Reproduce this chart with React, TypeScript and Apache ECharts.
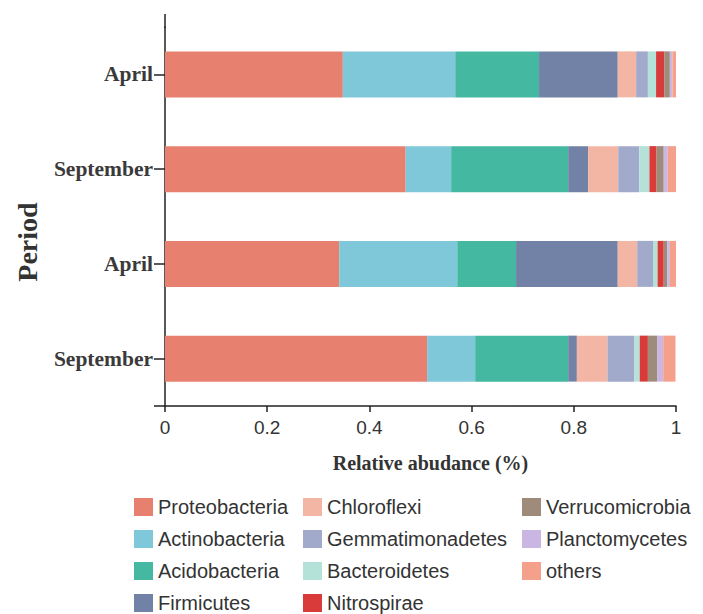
import React, { useEffect, useRef } from "react";
import * as echarts from "echarts";

// Categories bottom -> top
const periods = ["September", "April", "September", "April"];
const xTicks = [0, 0.2, 0.4, 0.6, 0.8, 1];

const phyla = [
  "Proteobacteria",
  "Actinobacteria",
  "Acidobacteria",
  "Firmicutes",
  "Chloroflexi",
  "Gemmatimonadetes",
  "Bacteroidetes",
  "Nitrospirae",
  "Verrucomicrobia",
  "Planctomycetes",
  "others",
];

const proteobacteria = [0.513, 0.341, 0.471, 0.348];
const actinobacteria = [0.094, 0.231, 0.089, 0.22];
const acidobacteria = [0.182, 0.115, 0.229, 0.164];
const firmicutes = [0.017, 0.199, 0.039, 0.154];
const chloroflexi = [0.06, 0.038, 0.059, 0.036];
const gemmatimonadetes = [0.052, 0.031, 0.041, 0.023];
const bacteroidetes = [0.011, 0.009, 0.02, 0.016];
const nitrospirae = [0.016, 0.012, 0.014, 0.016];
const verrucomicrobia = [0.018, 0.007, 0.014, 0.011];
const planctomycetes = [0.012, 0.005, 0.008, 0.005];
const others = [0.024, 0.012, 0.016, 0.007];

const seriesValues = [
  proteobacteria,
  actinobacteria,
  acidobacteria,
  firmicutes,
  chloroflexi,
  gemmatimonadetes,
  bacteroidetes,
  nitrospirae,
  verrucomicrobia,
  planctomycetes,
  others,
];

const colors = [
  "#E8806F",
  "#7EC8DA",
  "#45B8A2",
  "#7282A6",
  "#F4B6A4",
  "#A2AACB",
  "#B4E2D8",
  "#D93A3A",
  "#9E8B79",
  "#C9B6E2",
  "#F5A08A",
];

const legendCols = [
  ["Proteobacteria", "Actinobacteria", "Acidobacteria", "Firmicutes"],
  ["Chloroflexi", "Gemmatimonadetes", "Bacteroidetes", "Nitrospirae"],
  ["Verrucomicrobia", "Planctomycetes", "others"],
];

export default function App() {
  const ref = useRef<HTMLDivElement>(null);
  useEffect(() => {
    if (!ref.current) return;
    const chart = echarts.init(ref.current, null, { renderer: "svg" });
    const legendLefts = [134, 303, 522];
    const option: any = {
      animation: false,
      color: colors,
      grid: { left: 165, right: 27, top: 27, bottom: 208, containLabel: false },
      legend: legendCols.map((col, i) => ({
        data: col,
        orient: "vertical",
        left: legendLefts[i],
        top: 497,
        icon: "rect",
        itemWidth: 19,
        itemHeight: 18,
        itemGap: 12,
        padding: 0,
        selectedMode: false,
        textStyle: {
          fontFamily: "Liberation Sans",
          fontSize: 20,
          lineHeight: 20,
          color: "#333",
        },
      })),
      xAxis: {
        type: "value",
        min: 0,
        max: 1,
        interval: 0.2,
        splitLine: { show: false },
        axisLine: { show: true, lineStyle: { color: "#222", width: 1.5 } },
        axisTick: { show: true, length: 6, lineStyle: { color: "#222", width: 1.5 } },
        axisLabel: {
          margin: 12,
          fontFamily: "Liberation Sans",
          fontSize: 19,
          color: "#333",
          formatter: (v: number) => (xTicks.indexOf(v) >= 0 ? String(v) : ""),
        },
        name: "Relative abudance (%)",
        nameLocation: "middle",
        nameGap: 47,
        nameTextStyle: {
          fontFamily: "Liberation Serif",
          fontWeight: "bold",
          fontSize: 20,
          color: "#333",
          padding: [0, 0, 0, 20],
        },
      },
      yAxis: {
        type: "category",
        data: periods,
        axisLine: { show: true, lineStyle: { color: "#222", width: 1.5 } },
        axisTick: { show: true, alignWithLabel: true, length: 11, lineStyle: { color: "#222", width: 1.5 } },
        axisLabel: {
          margin: 12,
          fontFamily: "Liberation Serif",
          fontWeight: "bold",
          fontSize: 21.5,
          color: "#3a3a3a",
        },
      },
      graphic: [
        {
          type: "line",
          shape: { x1: 165, y1: 14, x2: 165, y2: 28 },
          style: { stroke: "#222", lineWidth: 1.5 },
        },
        {
          type: "line",
          shape: { x1: 154, y1: 406, x2: 165, y2: 406 },
          style: { stroke: "#222", lineWidth: 1.5 },
        },
        {
          type: "text",
          x: 27,
          y: 242,
          rotation: Math.PI / 2,
          style: {
            text: "Period",
            fontFamily: "Liberation Serif",
            fontWeight: "bold",
            fontSize: 28,
            fill: "#333",
            textAlign: "center",
            textVerticalAlign: "middle",
          },
        },
      ],
      series: phyla.map((name, i) => ({
        name,
        type: "bar",
        stack: "total",
        barWidth: 46,
        data: seriesValues[i],
        itemStyle: { color: colors[i] },
      })),
    };
    chart.setOption(option);
    return () => chart.dispose();
  }, []);
  return <div ref={ref} style={{ width: 703, height: 614, position: "absolute", left: 0, top: 0 }} />;
}
